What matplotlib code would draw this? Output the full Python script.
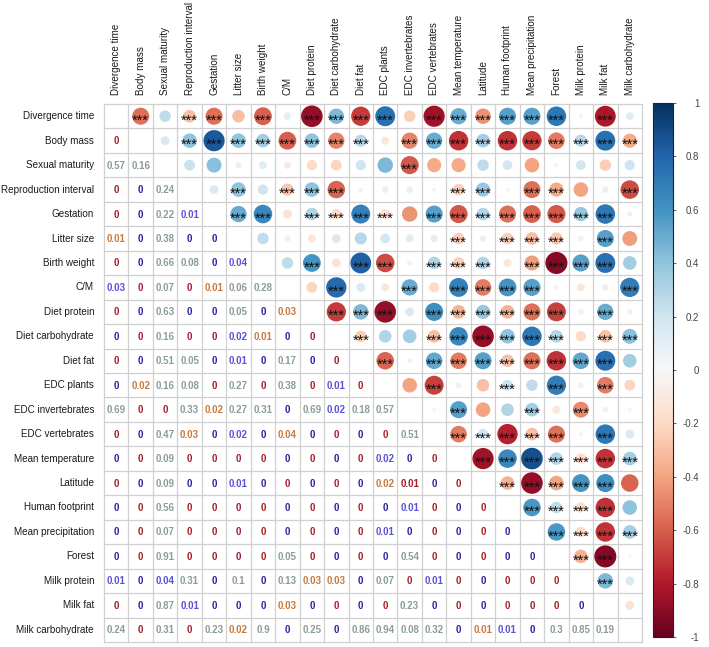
import numpy as np
import matplotlib
matplotlib.use('Agg')
import matplotlib.pyplot as plt
from matplotlib.patches import Circle
from matplotlib import cm, colors

plt.rcParams['font.family'] = ['Liberation Sans', 'DejaVu Sans']

labels = ['Divergence time', 'Body mass', 'Sexual maturity', 'Reproduction interval',
          'Gestation', 'Litter size', 'Birth weight', 'C/M', 'Diet protein',
          'Diet carbohydrate', 'Diet fat', 'EDC plants', 'EDC invertebrates',
          'EDC vertebrates', 'Mean temperature', 'Latitude', 'Human footprint',
          'Mean precipitation', 'Forest', 'Milk protein', 'Milk fat', 'Milk carbohydrate']

# correlations, row i holds columns i+1 .. end (upper triangle)
corr_upper = [
    [-0.55, 0.25, -0.3, -0.55, -0.3, -0.6, 0.1, -0.88, 0.45, -0.7, 0.75, -0.25, -0.85, 0.5, -0.45, 0.55, 0.55, 0.72, 0.03, -0.82, 0.12],
    [0.15, 0.4, 0.85, 0.4, 0.35, -0.6, 0.4, -0.5, 0.28, -0.12, -0.5, 0.5, -0.72, 0.35, -0.72, -0.7, -0.52, 0.28, 0.75, -0.38],
    [0.22, 0.42, 0.07, 0.12, -0.1, -0.2, -0.22, 0.2, 0.45, -0.62, -0.38, -0.38, 0.25, 0.18, -0.4, 0.03, 0.18, -0.25, 0.2],
    [0.15, 0.4, 0.2, -0.28, 0.4, -0.58, 0.04, -0.08, 0.08, -0.03, -0.25, 0.38, -0.03, -0.55, -0.38, -0.4, 0.08, -0.65],
    [0.5, 0.65, -0.15, 0.3, -0.2, 0.68, -0.18, -0.45, 0.55, -0.62, 0.3, -0.55, -0.6, -0.62, 0.38, 0.72, 0.05],
    [0.25, 0.07, -0.12, 0.15, 0.28, 0.18, 0.12, 0.1, -0.25, 0.08, -0.25, -0.3, -0.28, 0.05, 0.55, -0.42],
    [0.25, 0.6, -0.15, 0.82, -0.65, 0.05, 0.3, -0.25, 0.3, -0.12, -0.42, -0.92, 0.55, 0.75, 0.35],
    [-0.22, 0.78, 0.15, -0.12, 0.5, -0.2, 0.68, -0.52, 0.6, 0.55, -0.04, -0.12, -0.08, 0.7],
    [-0.7, 0.45, -0.88, 0.15, 0.62, -0.35, 0.38, -0.35, -0.55, -0.68, -0.06, 0.5, -0.06],
    [-0.25, 0.3, 0.35, -0.3, 0.65, -0.88, 0.4, 0.72, 0.3, -0.2, -0.3, 0.42],
    [-0.58, -0.05, 0.52, -0.52, 0.55, -0.3, -0.55, -0.72, 0.52, 0.75, 0.35],
    [-0.4, -0.68, 0.06, -0.3, 0.22, 0.25, 0.7, -0.06, -0.52, -0.22],
    [0.03, 0.55, -0.4, 0.3, 0.35, -0.12, -0.48, -0.06, 0.03],
    [-0.52, 0.2, -0.78, -0.3, -0.55, 0.03, 0.72, 0.15],
    [-0.85, 0.65, 0.88, 0.3, -0.2, -0.72, 0.35],
    [-0.35, -0.88, -0.4, 0.6, 0.62, -0.58],
    [0.58, 0.25, -0.2, -0.72, 0.4],
    [0.58, -0.2, -0.72, 0.35],
    [-0.35, -0.92, 0.02],
    [0.45, 0.15],
    [-0.15],
]

# p-values, row i holds columns 0 .. i-1 (lower triangle)
p_lower = [
    [],
    [0],
    [0.57, 0.16],
    [0, 0, 0.24],
    [0, 0, 0.22, 0.012],
    [0.012, 0, 0.38, 0, 0],
    [0, 0, 0.66, 0.08, 0, 0.04],
    [0.03, 0, 0.07, 0, 0.012, 0.06, 0.28],
    [0, 0, 0.63, 0, 0, 0.05, 0, 0.03],
    [0, 0, 0.16, 0, 0, 0.02, 0.012, 0, 0],
    [0, 0, 0.51, 0.05, 0, 0.012, 0, 0.17, 0, 0],
    [0, 0.02, 0.16, 0.08, 0, 0.27, 0, 0.38, 0, 0.012, 0],
    [0.69, 0, 0, 0.33, 0.02, 0.27, 0.31, 0, 0.69, 0.02, 0.18, 0.57],
    [0, 0, 0.47, 0.03, 0, 0.02, 0, 0.04, 0, 0, 0, 0, 0.51],
    [0, 0, 0.09, 0, 0, 0, 0, 0, 0, 0, 0, 0.02, 0, 0],
    [0, 0, 0.09, 0, 0, 0.012, 0, 0, 0, 0, 0, 0.02, 0.006, 0, 0],
    [0, 0, 0.56, 0.003, 0, 0, 0.003, 0, 0, 0, 0, 0, 0.012, 0, 0, 0],
    [0, 0, 0.07, 0, 0, 0, 0, 0, 0, 0, 0, 0.012, 0, 0, 0, 0, 0],
    [0, 0, 0.91, 0, 0, 0, 0, 0.05, 0, 0, 0, 0, 0.54, 0, 0, 0, 0, 0],
    [0.012, 0, 0.04, 0.31, 0, 0.1, 0, 0.13, 0.03, 0.03, 0, 0.07, 0, 0.012, 0, 0, 0, 0, 0],
    [0, 0, 0.87, 0.012, 0, 0, 0, 0.03, 0, 0, 0, 0, 0.23, 0, 0, 0, 0, 0, 0, 0],
    [0.24, 0, 0.31, 0, 0.23, 0.02, 0.9, 0, 0.25, 0, 0.86, 0.94, 0.08, 0.32, 0, 0.012, 0.012, 0, 0.3, 0.85, 0.19],
]

cbar_ticks = [1, 0.8, 0.6, 0.4, 0.2, 0, -0.2, -0.4, -0.6, -0.8, -1]

n = len(labels)
corr = np.eye(n)
pmat = np.zeros((n, n))
for i, row in enumerate(corr_upper):
    corr[i, i + 1:] = row
    corr[i + 1:, i] = row
for i, row in enumerate(p_lower):
    pmat[i, :i] = row
    pmat[:i, i] = row


def p_color(p, r):
    if p >= 0.05:
        return '#8a9c9c'
    if p < 0.01:
        return '#a31d2b' if r < 0 else '#25249c'
    return '#c8793d' if r < 0 else '#5a52d6'


W, H = 709, 647
cell = 538 / n
fig = plt.figure(figsize=(W / 100, H / 100), dpi=100)
ax = fig.add_axes([104 / W, 5 / H, 538 / W, 538 / H])
ax.set_xlim(-0.5, n - 0.5)
ax.set_ylim(n - 0.5, -0.5)
ax.set_aspect('equal')
ax.set_axis_off()

cmap = plt.get_cmap('RdBu')
norm = colors.Normalize(-1, 1)

for k in range(n + 1):
    ax.axvline(k - 0.5, color='#d0d0d0', lw=0.9, clip_on=False, zorder=1)
    ax.axhline(k - 0.5, color='#d0d0d0', lw=0.9, clip_on=False, zorder=1)

star_em = 10.5 * 100 / 72 / cell
txt_em = 7 * 100 / 72 / cell
for i in range(n):
    for j in range(n):
        if j > i:
            r = corr[i, j]
            ax.add_patch(Circle((j, i), 0.47 * np.sqrt(abs(r)), color=cmap(norm(r)),
                                lw=0, zorder=2))
            if pmat[i, j] < 0.001:
                ax.text(j, i + 0.575 * star_em, '***', ha='center', va='baseline',
                        fontsize=10.5, color='#111111', zorder=3)
        elif j < i:
            p = pmat[i, j]
            ax.text(j, i + 0.36 * txt_em, '%g' % round(p, 2), ha='center', va='baseline',
                    fontsize=7, fontweight='bold', color=p_color(p, corr[i, j]), zorder=3)

for k, lab in enumerate(labels):
    ax.text(-0.5 - 10 / cell, k, lab, ha='right', va='center', fontsize=7.1,
            color='#1a1a1a', clip_on=False)
    ax.text(k, -0.5 - 9 / cell, lab, ha='center', va='bottom', rotation=90,
            fontsize=7.1, color='#1a1a1a', clip_on=False)

cax = fig.add_axes([653 / W, 10 / H, 20 / W, 534 / H])
sm = cm.ScalarMappable(norm=norm, cmap=cmap)
cb = fig.colorbar(sm, cax=cax, ticks=cbar_ticks)
cb.outline.set_edgecolor('#222222')
cb.outline.set_linewidth(0.8)
cb.ax.set_yticklabels(['%g' % t for t in cbar_ticks])
cb.ax.tick_params(length=2, width=0.6, colors='#444444', labelsize=7, pad=17)
for t in cb.ax.get_yticklabels():
    t.set_horizontalalignment('right')

fig.savefig('out.png', dpi=100)
